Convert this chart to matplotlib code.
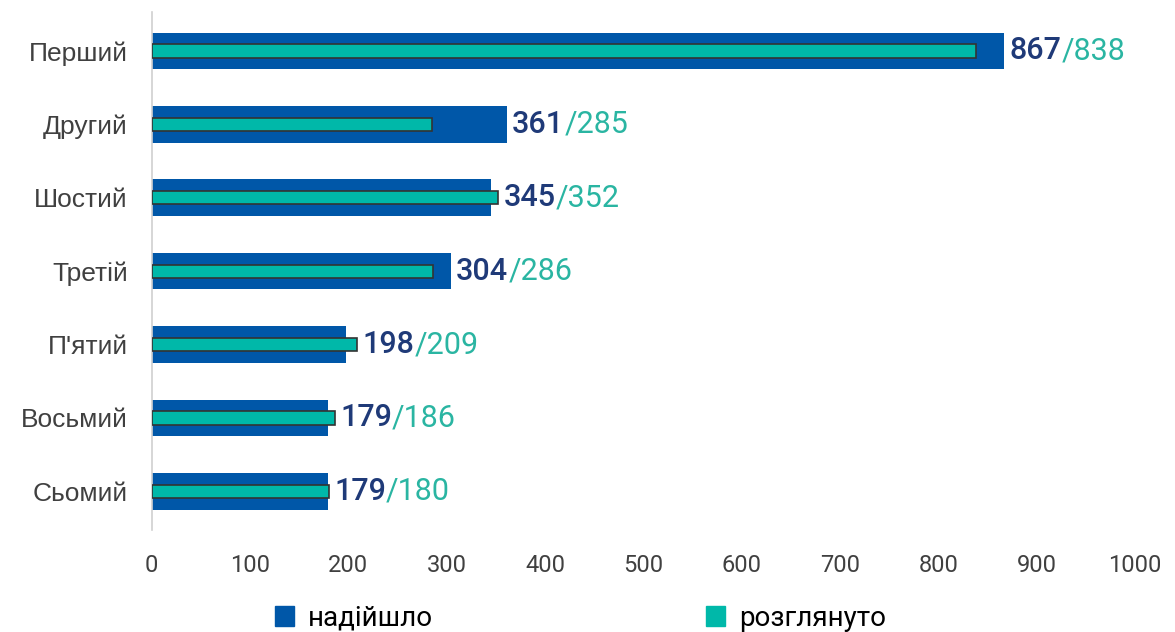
import matplotlib
matplotlib.use("Agg")
import matplotlib.pyplot as plt

categories = ["Перший", "Другий", "Шостий", "Третій", "П'ятий", "Восьмий", "Сьомий"]
received = [867, 361, 345, 304, 198, 179, 179]
reviewed = [838, 285, 352, 286, 209, 186, 180]
series_names = ["надійшло", "розглянуто"]
xticks = [0, 100, 200, 300, 400, 500, 600, 700, 800, 900, 1000]

BLUE = "#0057A8"
TEAL = "#00B8A9"
NAVY = "#1F3A78"
TEAL_TXT = "#2AB5A2"

fig = plt.figure(figsize=(11.75, 6.32), dpi=100)
ax = fig.add_axes([0.129, 0.161, 0.837, 0.820])

y = list(range(len(categories)))
ax.barh(y, received, height=0.5, color=BLUE, label=series_names[0], zorder=2)
ax.barh(y, reviewed, height=0.18, color=TEAL, edgecolor="#333333", linewidth=1.2,
        label=series_names[1], zorder=3)

ax.set_xlim(0, 1000)
ax.set_ylim(6.53, -0.53)
ax.set_yticks(y)
ax.set_yticklabels(categories, fontsize=19, color="#404040", family="Liberation Sans")
ax.set_xticks(xticks)
ax.set_xticklabels([str(t) for t in xticks], fontsize=17, color="#404040", family="Roboto")
ax.tick_params(axis="y", length=0, pad=17)
ax.tick_params(axis="x", length=0, pad=17)
for s in ["top", "right", "bottom"]:
    ax.spines[s].set_visible(False)
ax.spines["left"].set_color("#D0D0D0")
ax.spines["left"].set_linewidth(1.2)

for i, (r, v) in enumerate(zip(received, reviewed)):
    xpos = max(r, v)
    t1 = ax.annotate(f"{r}", xy=(xpos, i), xytext=(4, 0), textcoords="offset points",
                     va="center", ha="left", fontsize=22, color=NAVY,
                     fontweight="medium", family="Roboto")
    ax.annotate(f"/{v}", xy=(1, 0.5), xycoords=t1, va="center", ha="left",
                fontsize=22, color=TEAL_TXT, family="Roboto")

handles = [plt.Rectangle((0, 0), 1, 1, color=BLUE), plt.Rectangle((0, 0), 1, 1, color=TEAL)]
fig.legend(handles, series_names, loc="center", bbox_to_anchor=(0.494, 0.022), ncol=2,
           frameon=False, columnspacing=9.8, handlelength=0.7,
           handleheight=0.7, handletextpad=0.5, prop={"family": "Roboto", "size": 20})

fig.savefig("out.png", dpi=100)
